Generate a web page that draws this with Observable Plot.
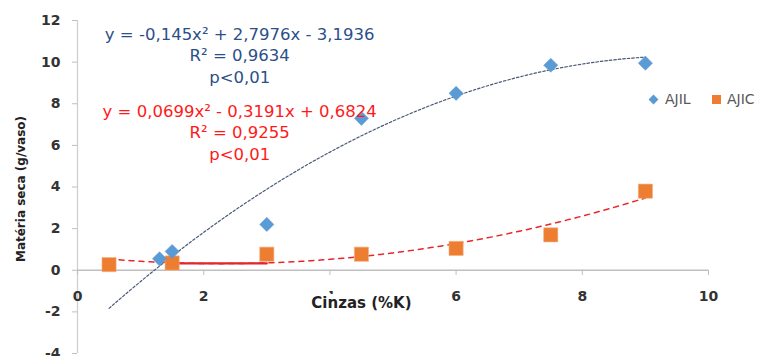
<!DOCTYPE html>
<html>
<head>
<meta charset="utf-8">
<script src="https://cdn.jsdelivr.net/npm/d3@7"></script>
<script src="https://cdn.jsdelivr.net/npm/@observablehq/plot@0.6"></script>
<style>
  html, body { margin: 0; padding: 0; background: #fff; }
  #wrap { position: relative; width: 763px; height: 356px; overflow: hidden; }
  .leg { position: absolute; top: 91px; font-family: "DejaVu Sans", sans-serif; font-size: 14px; color: #595959; display: flex; align-items: center; white-space: nowrap; }
  .sw-d { width: 7px; height: 7px; background: #5B9BD5; transform: rotate(45deg); margin-right: 8px; }
  .sw-s { width: 9px; height: 9px; background: #ED7D31; margin-right: 6px; }
</style>
</head>
<body>
<div id="wrap"></div>
<script>
// ---- data ----
const seriesNames = ["AJIL", "AJIC"];
const xAJIL = [1.3, 1.5, 3.0, 4.5, 6.0, 7.5, 9.0];
const yAJIL = [0.55, 0.9, 2.2, 7.3, 8.5, 9.85, 9.95];
const xAJIC = [0.5, 1.5, 3.0, 4.5, 6.0, 7.5, 9.0];
const yAJIC = [0.27, 0.35, 0.77, 0.77, 1.05, 1.7, 3.8];
// trendline coefficients (a, b, c) of y = a x^2 + b x + c, as printed on the chart
const coefAJIL = [-0.145, 2.7976, -3.1936];
const coefAJIC = [0.0699, -0.3191, 0.6824];
const trendRange = [0.5, 9.0];
// stray solid red segment
const segX = [1.5, 3.0];
const segY = [0.33, 0.33];
// tick labels
const xTicks = [0, 2, 4, 6, 8, 10];
const yTicks = [-4, -2, 0, 2, 4, 6, 8, 10, 12];
// annotations
const eqAJIL = ["y = -0,145x² + 2,7976x - 3,1936", "R² = 0,9634", "p<0,01"];
const eqAJIC = ["y = 0,0699x² - 0,3191x + 0,6824", "R² = 0,9255", "p<0,01"];
const eqPosAJIL = [2.57, 10.38];
const eqPosAJIC = [2.57, 6.68];
const xTitle = "Cinzas (%K)";
const yTitle = "Matéria seca (g/vaso)";

const ptsAJIL = xAJIL.map((x, i) => ({x, y: yAJIL[i]}));
const ptsAJIC = xAJIC.map((x, i) => ({x, y: yAJIC[i]}));
const curve = (c) => d3.range(trendRange[0], trendRange[1] + 1e-9, 0.05)
  .map(x => ({x, y: c[0] * x * x + c[1] * x + c[2]}));
const seg = segX.map((x, i) => ({x, y: segY[i]}));

const font = "DejaVu Sans";

const chart = Plot.plot({
  width: 763,
  height: 356,
  marginLeft: 77,
  marginRight: 55,
  marginTop: 20,
  marginBottom: 3,
  x: {domain: [0, 10], axis: null},
  y: {domain: [-4, 12], axis: null},
  style: {fontFamily: font, background: "white", overflow: "visible"},
  marks: [
    // y axis
    Plot.ruleX([0], {stroke: "#d0d0d0", strokeWidth: 1.3}),
    Plot.axisY(yTicks, {
      tickSize: 5, tickPadding: 12, stroke: "#bfbfbf", fill: "#333",
      fontSize: 14, fontWeight: "bold", tickFormat: d => String(d), label: null
    }),
    // x axis at y = 0
    Plot.ruleY([0], {stroke: "#bfbfbf", strokeWidth: 1.3}),
    Plot.ruleX(xTicks, {x: d => d, y1: 0, y2: -0.25, stroke: "#bfbfbf"}),
    Plot.text(xTicks, {x: d => d, y: 0, dy: 26, text: d => String(d), fontSize: 14, fontWeight: "bold", fill: "#333"}),
    // x title (covers part of the "4" label)
    Plot.text([xTitle], {x: 4.5, y: 0, dy: 33, text: d => d, fontSize: 15, fontWeight: "bold", fill: "#222", stroke: "white", strokeWidth: 10, paintOrder: "stroke"}),
    // y title
    Plot.text([yTitle], {frameAnchor: "left", textAnchor: "middle", dx: -56, dy: 2, rotate: -90, text: d => d, fontSize: 12, fontWeight: "bold", fill: "#222"}),
    // stray solid red segment
    Plot.line(seg, {x: "x", y: "y", stroke: "#E0252B", strokeWidth: 2.2}),
    // trendlines
    Plot.line(curve(coefAJIL), {x: "x", y: "y", stroke: "#4A5A78", strokeWidth: 1.2, strokeDasharray: "2.5 2"}),
    Plot.line(curve(coefAJIC), {x: "x", y: "y", stroke: "#E8262B", strokeWidth: 1.5, strokeDasharray: "5 5"}),
    // markers
    Plot.dot(ptsAJIC, {x: "x", y: "y", symbol: "square", r: 8, fill: "#ED7D31", stroke: "#F4B183", strokeWidth: 0.6}),
    Plot.dot(ptsAJIL, {x: "x", y: "y", symbol: "diamond2", r: 6.4, fill: "#5B9BD5", stroke: "#5B9BD5", strokeWidth: 0.5}),
    // equations
    Plot.text([eqAJIL.join("\n")], {x: eqPosAJIL[0], y: eqPosAJIL[1], text: d => d, fontSize: 16.5, lineHeight: 1.3, fill: "#2B4F8A"}),
    Plot.text([eqAJIC.join("\n")], {x: eqPosAJIC[0], y: eqPosAJIC[1], text: d => d, fontSize: 16.5, lineHeight: 1.31, fill: "#FF1A1A"})
  ]
});

const wrap = document.getElementById("wrap");
wrap.appendChild(chart);

// legend
const leg1 = document.createElement("div");
leg1.className = "leg";
leg1.style.left = "650px";
leg1.innerHTML = `<span class="sw-d"></span><span>${seriesNames[0]}</span>`;
wrap.appendChild(leg1);
const leg2 = document.createElement("div");
leg2.className = "leg";
leg2.style.left = "712px";
leg2.innerHTML = `<span class="sw-s"></span><span>${seriesNames[1]}</span>`;
wrap.appendChild(leg2);
</script>
</body>
</html>
